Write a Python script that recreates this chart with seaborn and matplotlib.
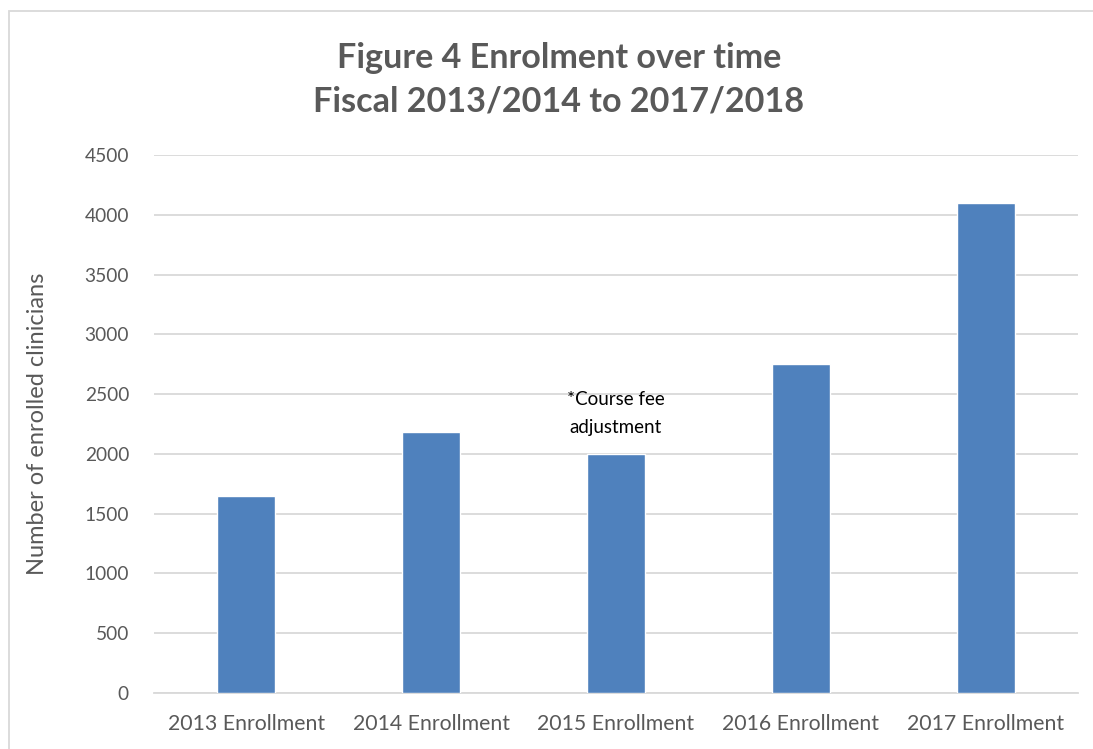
import matplotlib
matplotlib.use("Agg")
import matplotlib.pyplot as plt
import seaborn as sns
import pandas as pd
from matplotlib.patches import Rectangle

categories = ["2013 Enrollment", "2014 Enrollment", "2015 Enrollment",
              "2016 Enrollment", "2017 Enrollment"]
enrolled = [1650, 2180, 2000, 2755, 4095]
y_ticks = [0, 500, 1000, 1500, 2000, 2500, 3000, 3500, 4000, 4500]

df = pd.DataFrame({"year": categories, "enrolled": enrolled})

sns.set_theme(style="white")
plt.rcParams["font.family"] = ["Lato", "DejaVu Sans"]

W, H, DPI = 1093, 749, 100
fig = plt.figure(figsize=(W / DPI, H / DPI), dpi=DPI)

# axes placed in pixel terms
left, right, top, bottom = 154, 1078, 155, 693
ax = fig.add_axes([left / W, 1 - bottom / H, (right - left) / W, (bottom - top) / H])

sns.barplot(data=df, x="year", y="enrolled", color="#4F81BD", width=0.314,
            saturation=1, ax=ax, zorder=3)

ax.set_ylim(0, 4500)
ax.set_xlim(-0.5, 4.5)
ax.set_yticks(y_ticks)
ax.set_yticklabels([str(t) for t in y_ticks])
ax.yaxis.grid(True, color="#D9D9D9", linewidth=1.3, zorder=0)
ax.xaxis.grid(False)
for s in ["left", "right", "top"]:
    ax.spines[s].set_visible(False)
ax.spines["bottom"].set_color("#D9D9D9")
ax.spines["bottom"].set_linewidth(1.3)
ax.tick_params(axis="both", length=0, colors="#595959")
ax.tick_params(axis="y", pad=18, labelsize=13.8)
ax.tick_params(axis="x", pad=15, labelsize=15.3)
ax.set_xlabel("")
ax.set_ylabel("Number of enrolled clinicians", fontsize=17, color="#595959", labelpad=26)

ax.text(2, 2340, "*Course fee\nadjustment", ha="center", va="center",
        fontsize=13.5, color="black", linespacing=1.8)

fig.text(559 / W, 1 - 80 / H, "Figure 4 Enrolment over time\nFiscal 2013/2014 to 2017/2018",
         ha="center", va="center", fontsize=24.6, fontweight="bold", color="#595959",
         linespacing=1.45)

# chart frame
fig.patches.append(Rectangle((8.5 / W, -0.1), 1.2, 1 - 11 / H + 0.1,
                             transform=fig.transFigure, fill=False,
                             edgecolor="#D9D9D9", linewidth=1.3))

fig.savefig("out.png", dpi=DPI, facecolor="white")
